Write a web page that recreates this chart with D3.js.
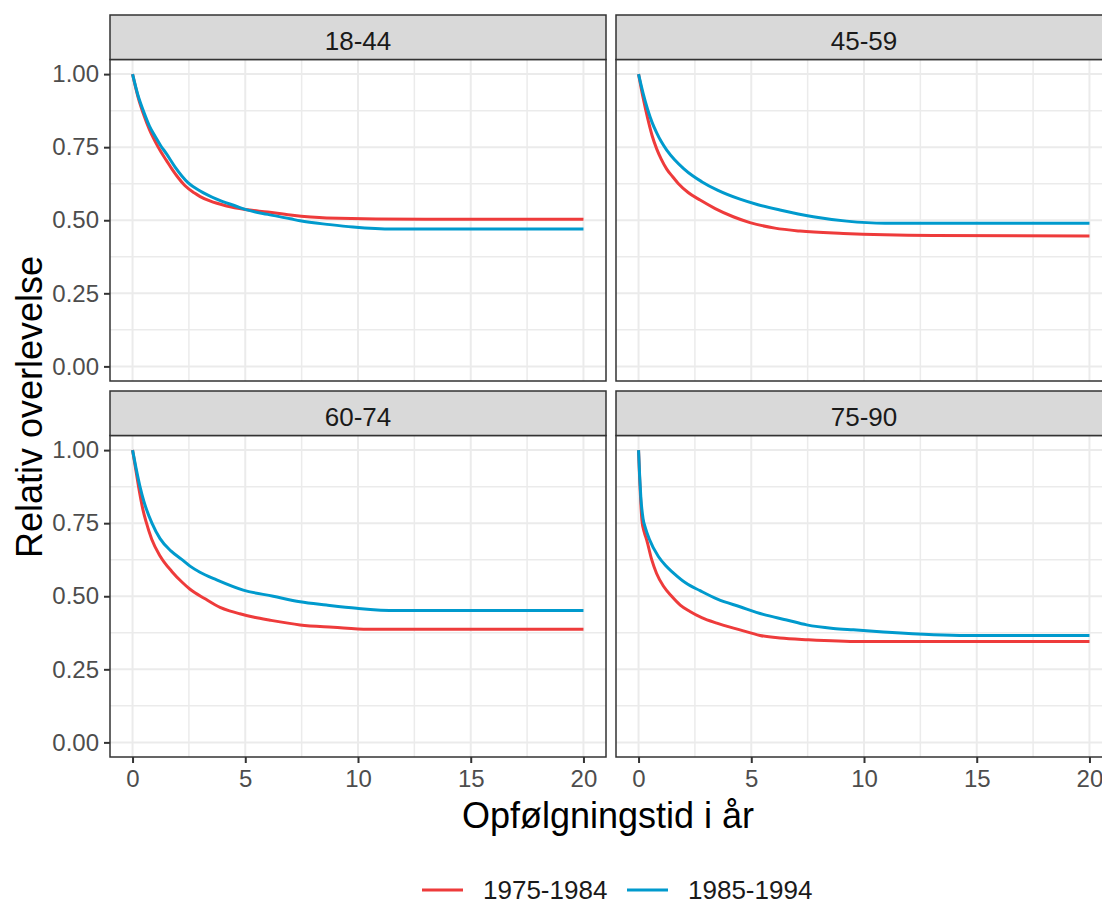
<!DOCTYPE html>
<html>
<head>
<meta charset="utf-8">
<script src="https://cdn.jsdelivr.net/npm/d3@7"></script>
<style>
    body { margin: 0; background: white; }
    text { font-family: "Liberation Sans", Arial, sans-serif; }
</style>
</head>
<body>
<svg id="plot"></svg>
<script>
"use strict";

// Age groups (one facet each) and the two diagnosis periods
const panel_names = ["18-44", "45-59", "60-74", "75-90"];
const series_names = ["1975-1984", "1985-1994"];

const x_ticks = [0, 5, 10, 15, 20];
const x_minor = [2.5, 7.5, 12.5, 17.5];
const y_ticks = [0, 0.25, 0.5, 0.75, 1];
const y_minor = [0.125, 0.375, 0.625, 0.875];

// Relative survival, follow-up time in years
const t_1844_a = [0, 0.25, 0.5, 0.75, 1, 1.25, 1.5, 1.75, 2, 2.33, 2.75, 3, 3.43, 4.17, 5, 6, 7, 8.6, 13, 20];
const s_1844_a = [1, 0.92, 0.86, 0.81, 0.77, 0.735, 0.705, 0.675, 0.648, 0.618, 0.593, 0.581, 0.566, 0.549, 0.537, 0.528, 0.518, 0.508, 0.503, 0.503];
const t_1844_b = [0, 0.25, 0.5, 0.75, 1, 1.25, 1.5, 1.88, 2.47, 3, 3.73, 4.6, 5, 6, 7, 7.43, 8.76, 9.78, 11.56, 20];
const s_1844_b = [1, 0.925, 0.87, 0.822, 0.787, 0.755, 0.728, 0.683, 0.628, 0.6, 0.572, 0.548, 0.537, 0.52, 0.505, 0.498, 0.485, 0.477, 0.47, 0.47];

const t_4559_a = [0, 0.2, 0.4, 0.6, 0.8, 1, 1.25, 1.5, 1.76, 2.2, 2.73, 3.4, 4.2, 4.94, 6.05, 7.16, 9.08, 13.07, 20];
const s_4559_a = [1, 0.92, 0.85, 0.79, 0.745, 0.71, 0.675, 0.65, 0.626, 0.595, 0.569, 0.54, 0.512, 0.492, 0.473, 0.463, 0.455, 0.448, 0.446];
const t_4559_b = [0, 0.2, 0.4, 0.6, 0.8, 1, 1.25, 1.6, 2, 2.4, 2.8, 3.5, 4.5, 5.3, 6.27, 7.75, 9.23, 10.93, 20];
const s_4559_b = [1, 0.935, 0.88, 0.835, 0.8, 0.77, 0.74, 0.707, 0.677, 0.652, 0.632, 0.603, 0.572, 0.553, 0.535, 0.512, 0.497, 0.49, 0.49];

const t_6074_a = [0, 0.15, 0.3, 0.45, 0.6, 0.85, 1.22, 1.74, 2.2, 2.55, 3.2, 3.88, 4.3, 4.76, 5.4, 6.1, 7.43, 8.9, 10.45, 20];
const s_6074_a = [1, 0.93, 0.86, 0.8, 0.755, 0.695, 0.638, 0.585, 0.548, 0.524, 0.492, 0.462, 0.45, 0.44, 0.428, 0.418, 0.402, 0.394, 0.387, 0.387];
const t_6074_b = [0, 0.15, 0.33, 0.5, 0.86, 1.22, 1.7, 2.18, 2.55, 2.99, 3.73, 4.91, 6.24, 7.43, 8.6, 9.94, 11.71, 20];
const s_6074_b = [1, 0.94, 0.875, 0.825, 0.75, 0.697, 0.655, 0.626, 0.603, 0.582, 0.556, 0.521, 0.5, 0.481, 0.47, 0.459, 0.451, 0.451];

const t_7590_a = [0, 0.05, 0.1, 0.15, 0.25, 0.36, 0.58, 0.8, 1.1, 1.47, 1.85, 2.28, 2.8, 3.47, 4.5, 5.39, 6.27, 7.53, 9.84, 20];
const s_7590_a = [1, 0.9, 0.82, 0.76, 0.72, 0.693, 0.626, 0.578, 0.535, 0.5, 0.47, 0.448, 0.427, 0.408, 0.385, 0.366, 0.357, 0.351, 0.345, 0.345];
const t_7590_b = [0, 0.05, 0.1, 0.2, 0.3, 0.48, 0.88, 1.2, 1.54, 2.1, 2.73, 3.5, 4.5, 5.53, 6.57, 7.46, 8.64, 9.53, 10.86, 14.55, 20];
const s_7590_b = [1, 0.91, 0.84, 0.765, 0.735, 0.695, 0.636, 0.605, 0.58, 0.545, 0.519, 0.49, 0.464, 0.438, 0.419, 0.402, 0.39, 0.385, 0.378, 0.366, 0.366];

const panel_times = [[t_1844_a, t_1844_b], [t_4559_a, t_4559_b], [t_6074_a, t_6074_b], [t_7590_a, t_7590_b]];
const panel_values = [[s_1844_a, s_1844_b], [s_4559_a, s_4559_b], [s_6074_a, s_6074_b], [s_7590_a, s_7590_b]];

const series_colors = ["#EE3B3B", "#009ACD"];

const WIDTH = 1102;
const HEIGHT = 906;

const panel_width = 496;
const panel_height = 321.5;
const strip_height = 44.5;
const col_left = [110, 616];
const row_top = [15, 391];

const svg = d3.select("#plot")
    .attr("width", WIDTH)
    .attr("height", HEIGHT)
    .style("background-color", "white");

svg.append("rect")
    .attr("width", WIDTH)
    .attr("height", HEIGHT)
    .attr("fill", "white");

// ggplot pads the data range by 5% on each side
const x_scale = d3.scaleLinear().domain([-1, 21]).range([0, panel_width]);
const y_scale = d3.scaleLinear().domain([-0.05, 1.05]).range([panel_height, 0]);

const curve_line = d3.line()
    .curve(d3.curveMonotoneX)
    .x(function(d) { return x_scale(d.t); })
    .y(function(d) { return y_scale(d.s); });

panel_names.forEach(function(name, p) {
    const col = p % 2;
    const row = Math.floor(p / 2);
    const left = col_left[col];
    const strip_top = row_top[row];
    const top = strip_top + strip_height;

    const g = svg.append("g")
        .attr("transform", "translate(" + left + "," + top + ")");

    // Grid, minor first then major
    g.selectAll(".vminor").data(x_minor).enter().append("line")
        .attr("x1", function(d) { return x_scale(d); })
        .attr("x2", function(d) { return x_scale(d); })
        .attr("y1", 0).attr("y2", panel_height)
        .attr("stroke", "#EBEBEB").attr("stroke-width", 1.5);
    g.selectAll(".hminor").data(y_minor).enter().append("line")
        .attr("y1", function(d) { return y_scale(d); })
        .attr("y2", function(d) { return y_scale(d); })
        .attr("x1", 0).attr("x2", panel_width)
        .attr("stroke", "#EBEBEB").attr("stroke-width", 1.5);
    g.selectAll(".vmajor").data(x_ticks).enter().append("line")
        .attr("x1", function(d) { return x_scale(d); })
        .attr("x2", function(d) { return x_scale(d); })
        .attr("y1", 0).attr("y2", panel_height)
        .attr("stroke", "#EBEBEB").attr("stroke-width", 2);
    g.selectAll(".hmajor").data(y_ticks).enter().append("line")
        .attr("y1", function(d) { return y_scale(d); })
        .attr("y2", function(d) { return y_scale(d); })
        .attr("x1", 0).attr("x2", panel_width)
        .attr("stroke", "#EBEBEB").attr("stroke-width", 2);

    // Survival curves
    series_names.forEach(function(sname, s) {
        const times = panel_times[p][s];
        const values = panel_values[p][s];
        const data = times.map(function(t, i) { return {"t": t, "s": values[i]}; });
        g.append("path")
            .datum(data)
            .attr("d", curve_line)
            .attr("fill", "none")
            .attr("stroke", series_colors[s])
            .attr("stroke-width", 3);
    });

    // Panel border
    g.append("rect")
        .attr("width", panel_width)
        .attr("height", panel_height)
        .attr("fill", "none")
        .attr("stroke", "#333333")
        .attr("stroke-width", 1.5);

    // Facet strip
    svg.append("rect")
        .attr("x", left)
        .attr("y", strip_top)
        .attr("width", panel_width)
        .attr("height", strip_height)
        .attr("fill", "#D9D9D9")
        .attr("stroke", "#333333")
        .attr("stroke-width", 1.5);
    svg.append("text")
        .attr("x", left + panel_width / 2)
        .attr("y", strip_top + 34.5)
        .attr("text-anchor", "middle")
        .attr("font-size", 26)
        .attr("fill", "#1A1A1A")
        .text(name);

    // Y axis only on the left column
    if (col === 0) {
        const y_axis = d3.axisLeft(y_scale)
            .tickValues(y_ticks)
            .tickFormat(d3.format(".2f"))
            .tickSize(6)
            .tickPadding(5);
        const ya = g.append("g").call(y_axis);
        ya.select(".domain").remove();
        ya.selectAll("line").attr("stroke", "#333333").attr("stroke-width", 2);
        ya.selectAll("text")
            .attr("font-size", 24)
            .attr("font-family", "Liberation Sans, Arial, sans-serif")
            .attr("fill", "#4D4D4D");
    }

    // X axis only on the bottom row
    if (row === 1) {
        const x_axis = d3.axisBottom(x_scale)
            .tickValues(x_ticks)
            .tickFormat(d3.format("d"))
            .tickSize(6)
            .tickPadding(7);
        const xa = g.append("g")
            .attr("transform", "translate(0," + panel_height + ")")
            .call(x_axis);
        xa.select(".domain").remove();
        xa.selectAll("line").attr("stroke", "#333333").attr("stroke-width", 2);
        xa.selectAll("text")
            .attr("font-size", 24)
            .attr("font-family", "Liberation Sans, Arial, sans-serif")
            .attr("fill", "#4D4D4D");
    }
});

// Axis titles
svg.append("text")
    .attr("x", 608)
    .attr("y", 828)
    .attr("text-anchor", "middle")
    .attr("font-size", 36)
    .attr("fill", "black")
    .text("Opfølgningstid i år");

svg.append("text")
    .attr("transform", "translate(42,407) rotate(-90)")
    .attr("text-anchor", "middle")
    .attr("font-size", 36)
    .attr("fill", "black")
    .text("Relativ overlevelse");

// Legend at the bottom
const legend_x = [422, 627];
series_names.forEach(function(sname, s) {
    svg.append("line")
        .attr("x1", legend_x[s])
        .attr("x2", legend_x[s] + 41)
        .attr("y1", 890)
        .attr("y2", 890)
        .attr("stroke", series_colors[s])
        .attr("stroke-width", 3);
    svg.append("text")
        .attr("x", legend_x[s] + 61)
        .attr("y", 899)
        .attr("font-size", 26)
        .attr("fill", "#1A1A1A")
        .text(sname);
});
</script>
</body>
</html>
